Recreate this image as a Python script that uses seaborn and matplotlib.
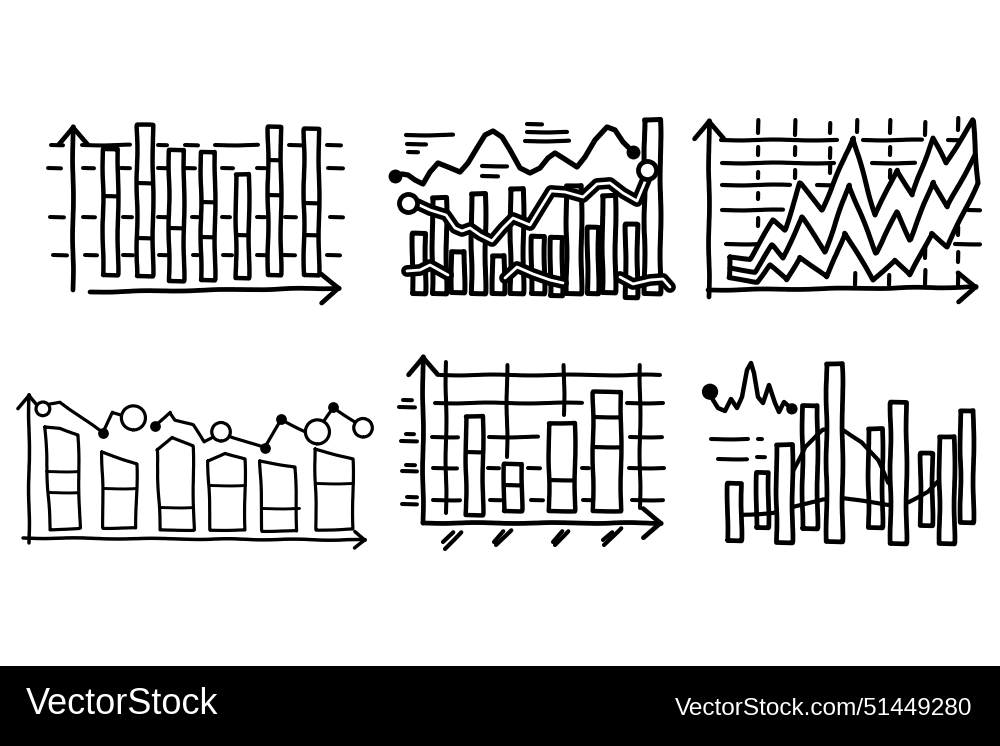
import numpy as np
import matplotlib
matplotlib.use("Agg")
import matplotlib.pyplot as plt
import seaborn as sns

# ---------- panel 1: tall segmented bars ----------
p1_x = [70, 105, 136, 168, 202, 234, 271]
p1_top = [151, 175, 150, 148, 126, 173, 171]
p1_base = [25, 24, 19, 20, 22, 25, 25]
p1_width = [15, 16, 15, 14, 13, 13, 15]
p1_splits = [[104], [117, 62], [72], [98, 63], [65], [140, 105], [97, 65]]
p1_levels = {
    155: [(11, 23), (42, 90), (118, 127), (145, 158), (175, 218), (249, 262), (287, 301)],
    132: [(8, 21), (43, 54), (81, 90), (118, 127), (143, 155), (182, 193), (217, 225), (288, 303)],
    83: [(10, 24), (43, 55), (83, 92), (118, 127), (152, 158), (182, 190), (217, 225), (245, 256), (290, 303)],
    45: [(13, 27), (45, 57), (83, 93), (119, 127), (153, 158), (183, 192), (217, 228), (243, 255), (287, 300)],
}

# ---------- panel 2: bars with three curves ----------
p2_x = [33, 54, 72, 93, 113, 132, 152, 171, 189, 208, 224, 246, 267]
p2_top = [72, 108, 54, 112, 50, 117, 69, 68, 120, 78, 110, 81, 186]
p2_base = [12, 12, 13, 12, 12, 12, 12, 10, 12, 12, 13, 8, 12]
p2_width = [13, 14, 13, 14, 12, 13, 13, 12, 15, 11, 13, 12, 16]
p2_wave_x = [10, 17, 23, 30, 38, 45, 53, 63, 75, 83, 92, 100, 108, 117, 125, 135, 145, 155,
             163, 170, 178, 192, 200, 210, 222, 230, 238, 248]
p2_wave_y = [129, 131, 130, 125, 121, 133, 142, 138, 133, 142, 157, 170, 174, 168, 155, 137, 132, 137,
             147, 152, 147, 138, 148, 165, 178, 175, 163, 153]
p2_band_x = [23, 32, 45, 61, 70, 77, 85, 95, 107, 118, 128, 145, 156, 166, 180, 198, 212, 225, 238, 252, 262]
p2_band_y = [102, 101, 95, 90, 77, 74, 77, 70, 64, 77, 87, 80, 98, 114, 113, 108, 121, 122, 112, 104, 128]
p2_low_a = ([22, 35, 45, 63], [34, 35, 40, 30])
p2_low_b = ([120, 132, 148, 165, 178], [27, 38, 31, 25, 22])
p2_low_c = ([235, 248, 265, 278, 285], [28, 21, 25, 26, 18])
p2_text = {170: (21, 68), 161: (22, 41), 153: (23, 33), 139: (97, 122), 129: (97, 113),
           181: (142, 157), 173: (142, 182), 164: (140, 184)}

# ---------- panel 3: zigzag area ----------
p3_outer_x = [35, 55, 78, 90, 105, 127, 158, 180, 202, 217, 238, 251, 278, 283, 252, 237, 215, 200,
              178, 150, 132, 105, 92, 75, 62, 34, 35]
p3_outer_y = [48, 46, 85, 75, 122, 95, 167, 90, 135, 110, 167, 142, 185, 122, 58, 72, 30, 45,
              25, 72, 28, 48, 25, 40, 23, 27, 48]
p3_mid_x = [35, 60, 77, 88, 107, 130, 154, 181, 202, 215, 238, 252, 280]
p3_mid_y = [37, 33, 60, 47, 88, 53, 120, 52, 93, 65, 123, 98, 150]
p3_levels = {
    165: [(26, 142), (168, 227), (253, 267)],
    142: [(27, 139), (177, 220)],
    120: [(27, 95), (122, 137)],
    95: [(27, 88), (273, 285)],
    61: [(31, 63), (260, 285)],
}
p3_cols = {
    63: [(172, 185), (150, 158), (127, 133), (106, 112), (79, 87)],
    100: [(170, 185), (150, 158), (127, 135)],
    135: [(172, 182), (147, 157), (132, 140)],
    162: [(173, 185)],
    195: [(172, 185), (150, 158), (127, 135)],
    230: [(170, 183), (47, 58), (20, 35)],
    263: [(175, 187), (70, 78), (43, 53), (20, 32)],
    160: [(20, 32)],
    194: [(20, 30)],
}

# ---------- panel 4: houses and linked dots ----------
p4_x = [48, 105, 160, 212, 264, 319]
p4_top = [123, 98, 113, 97, 89, 101]
p4_width = [33, 34, 35, 35, 36, 38]
p4_roofs = [
    ([30, 45, 63, 65, 35, 30], [123, 122, 115, 22, 20, 123]),
    ([87, 122, 121, 88, 87], [98, 86, 22, 22, 98]),
    ([142, 157, 178, 179, 145, 142], [100, 113, 104, 20, 20, 100]),
    ([193, 210, 230, 230, 195, 193], [89, 97, 91, 20, 20, 89]),
    ([245, 280, 282, 247, 245], [89, 83, 19, 19, 89]),
    ([300, 338, 338, 301, 300], [101, 91, 21, 20, 101]),
]
p4_splits = [[(31, 63, 79), (33, 63, 58)], [(88, 121, 62)], [(145, 176, 43)], [(195, 230, 65)],
             [(247, 284, 42)], [(301, 338, 67)]]
p4_link_a = ([35, 45, 88, 97, 118], [146, 148, 117, 138, 132])
p4_link_b = ([140, 155, 160, 178, 189, 198, 206, 217, 250, 266, 292, 302, 318, 348],
             [124, 138, 130, 125, 108, 113, 118, 113, 102, 131, 117, 118, 143, 122])
p4_rings_x = [28, 118, 206, 302, 348]
p4_rings_y = [141, 132, 118, 118, 122]
p4_rings_s = [90, 300, 170, 300, 170]
p4_dots_x = [88, 140, 250, 266, 318]
p4_dots_y = [117, 124, 102, 131, 143]

# ---------- panel 5: bars on a grid ----------
p5_x = [79, 118, 167, 212]
p5_top = [139, 91, 132, 163]
p5_base = [40, 44, 44, 44]
p5_width = [17, 18, 26, 28]
p5_splits = [[103], [70], [75], [138, 108]]
p5_levels = {
    180: [(45, 265)],
    152: [(40, 187), (232, 268)],
    118: [(37, 63), (94, 143), (235, 267)],
    87: [(38, 62), (93, 104), (133, 145), (187, 194), (234, 269)],
    55: [(38, 65), (95, 106), (136, 148), (188, 198), (237, 268)],
    155: [(8, 17)], 148: [(4, 20)], 121: [(11, 19)], 114: [(6, 22)],
    90: [(11, 20)], 84: [(7, 22)], 58: [(12, 22)], 51: [(7, 22)],
}
p5_cols = {51: (42, 193), 112: (98, 190), 169: (140, 190), 245: (47, 190)}
p5_marks = [((48, 58), (13, 23)), ((50, 66), (6, 23)), ((99, 108), (13, 24)), ((101, 116), (10, 25)),
            ((158, 167), (13, 24)), ((160, 173), (10, 24)), ((208, 217), (15, 23)), ((209, 226), (10, 27))]

# ---------- panel 6: bars, bell and squiggle ----------
p6_x = [34, 62, 84, 109, 134, 175, 198, 226, 247, 267]
p6_top = [69, 80, 108, 147, 189, 124, 150, 99, 116, 142]
p6_base = [12, 25, 10, 24, 11, 25, 9, 27, 9, 30]
p6_width = [14, 12, 16, 15, 16, 14, 16, 12, 15, 13]
p6_solid = [True, False, True, False, True, False, True, False, True, True]
p6_bell_x = [92, 105, 123, 143, 162, 178, 188]
p6_bell_y = [79, 105, 122, 122, 110, 92, 69]
p6_under_x = [37, 73, 123, 143, 168, 188, 208, 228, 238]
p6_under_y = [37, 39, 53, 54, 50, 47, 50, 60, 70]
p6_wave_x = [10, 13, 18, 25, 31, 37, 42, 47, 51, 54, 58, 63, 69, 75, 79, 84, 92]
p6_wave_y = [160, 152, 144, 141, 153, 144, 155, 182, 189, 179, 155, 149, 167, 149, 140, 150, 143]
p6_text = {113: [(11, 48), (58, 62)], 93: [(18, 47)], 95: [(57, 65)]}

FOOTER_LEFT = "VectorStock"
FOOTER_RIGHT = "VectorStock.com/51449280"

W, H = 1000, 746
sns.set_theme(style="white")
plt.rcParams["font.family"] = ["Liberation Sans", "DejaVu Sans"]
plt.rcParams["path.sketch"] = (0.45, 90, 3)
plt.rcParams["lines.solid_capstyle"] = "round"
plt.rcParams["lines.solid_joinstyle"] = "round"

fig = plt.figure(figsize=(W / 100, H / 100), dpi=100, facecolor="white")
fig.patch.set_sketch_params(None)


def panel(left, top, right, bottom):
    ax = fig.add_axes([left / W, 1 - bottom / H, (right - left) / W, (bottom - top) / H])
    ax.set_meta = (right - left, bottom - top)
    return ax


def finish(ax):
    ax.set_xlim(0, ax.set_meta[0])
    ax.set_ylim(0, ax.set_meta[1])
    ax.axis("off")


def bars(ax, x, top, base, width, lw=3.2, solid=None, z=3):
    n_before = len(ax.patches)
    sns.barplot(x=x, y=top, native_scale=True, fill=True, color="white", saturation=1,
                edgecolor="black", linewidth=lw, ax=ax, errorbar=None, zorder=z)
    for i, p in enumerate(ax.patches[n_before:]):
        p.set_x(x[i] - width[i] / 2)
        p.set_width(width[i])
        p.set_y(base[i])
        p.set_height(top[i] - base[i])
        p.set_facecolor("white" if (solid is None or solid[i]) else "none")
        p.set_joinstyle("round")


def splits(ax, x, width, levels, lw=3.0, z=4):
    for xi, wi, ys in zip(x, width, levels):
        ax.hlines(ys, xi - wi / 2, xi + wi / 2, color="black", lw=lw, zorder=z)


def rules(ax, levels, lw=2.9, z=1):
    for y, segs in levels.items():
        for a, b in segs:
            ax.plot([a, b], [y, y], color="black", lw=lw, zorder=z)


def curve(ax, x, y, lw=3.2, color="black", z=5, smooth=False):
    sns.lineplot(x=x, y=y, sort=False, estimator=None, color=color, lw=lw, ax=ax, zorder=z, legend=False)
    if smooth:
        ax.lines[-1].set_sketch_params(None)


def band(ax, x, y, z=5):
    curve(ax, x, y, lw=8.5, z=z, smooth=True)
    curve(ax, x, y, lw=2.0, color="white", z=z + 1, smooth=True)


def arrow(ax, start, end, lw=3.4, scale=26):
    ax.annotate("", xy=end, xytext=start, zorder=6,
                arrowprops=dict(arrowstyle="->,head_length=0.5,head_width=0.4", lw=lw, color="black",
                                shrinkA=0, shrinkB=0, mutation_scale=scale, capstyle="round"))


# panel 1
ax = panel(40, 110, 360, 300)
rules(ax, p1_levels)
bars(ax, p1_x, p1_top, p1_base, p1_width)
splits(ax, p1_x, p1_width, p1_splits)
arrow(ax, (33, 10), (33, 177))
arrow(ax, (50, 8), (303, 12))
finish(ax)

# panel 2
ax = panel(385, 110, 680, 305)
bars(ax, p2_x, p2_top, p2_base, p2_width, lw=3.6)
for y, (a, b) in p2_text.items():
    ax.plot([a, b], [y, y], color="black", lw=3.0)
curve(ax, p2_wave_x, p2_wave_y, lw=3.8, smooth=True)
sns.scatterplot(x=[p2_wave_x[0], p2_wave_x[-1]], y=[p2_wave_y[0], p2_wave_y[-1]], s=100, color="black",
                linewidth=0, ax=ax, zorder=6)
band(ax, p2_band_x, p2_band_y)
band(ax, *p2_low_a)
band(ax, *p2_low_b)
band(ax, *p2_low_c)
sns.scatterplot(x=[p2_band_x[0], p2_band_x[-1]], y=[p2_band_y[0], 135], s=170, color="white",
                edgecolor="black", linewidth=3.4, ax=ax, zorder=8)
finish(ax)

# panel 3
ax = panel(695, 105, 990, 305)
rules(ax, p3_levels, lw=3.0)
for x0, segs in p3_cols.items():
    for a, b in segs:
        ax.plot([x0, x0], [a, b], color="black", lw=3.0, zorder=1)
sns.lineplot(x=p3_outer_x, y=p3_outer_y, sort=False, estimator=None, color="black", lw=3.6, ax=ax, zorder=4,
             legend=False)
ax.fill(p3_outer_x, p3_outer_y, color="white", zorder=3)
curve(ax, p3_mid_x, p3_mid_y, lw=3.6)
arrow(ax, (14, 8), (14, 188))
arrow(ax, (13, 15), (285, 18))
finish(ax)

# panel 4
ax = panel(15, 385, 380, 550)
sns.barplot(x=p4_x, y=p4_top, native_scale=True, color="white", saturation=1, linewidth=0, ax=ax,
            errorbar=None, zorder=1)
for p, xi, wi in zip(ax.patches, p4_x, p4_width):
    p.set_x(xi - wi / 2)
    p.set_width(wi)
    p.set_y(20)
    p.set_height(p.get_height() - 20)
for rx, ry in p4_roofs:
    curve(ax, rx, ry, lw=2.3, z=3)
for group in p4_splits:
    for a, b, y in group:
        ax.plot([a, b], [y, y], color="black", lw=2.1, zorder=3)
curve(ax, *p4_link_a, lw=2.3)
curve(ax, *p4_link_b, lw=2.3)
sns.scatterplot(x=p4_dots_x, y=p4_dots_y, s=60, color="black", linewidth=0, ax=ax, zorder=6)
sns.scatterplot(x=p4_rings_x, y=p4_rings_y, s=p4_rings_s, color="white", edgecolor="black", linewidth=2.3,
                ax=ax, zorder=7, legend=False)
arrow(ax, (14, 7), (14, 158), lw=2.5, scale=20)
arrow(ax, (8, 12), (353, 10), lw=2.5, scale=15)
finish(ax)

# panel 5
ax = panel(395, 345, 675, 555)
rules(ax, p5_levels)
for x0, (a, b) in p5_cols.items():
    ax.plot([x0, x0], [a, b], color="black", lw=2.9, zorder=1)
bars(ax, p5_x, p5_top, p5_base, p5_width)
splits(ax, p5_x, p5_width, p5_splits)
for mx, my in p5_marks:
    ax.plot(mx, my, color="black", lw=3.0)
arrow(ax, (28, 32), (28, 202))
arrow(ax, (28, 32), (270, 32))
finish(ax)

# panel 6
ax = panel(700, 350, 985, 552)
curve(ax, p6_bell_x, p6_bell_y, lw=3.0, z=2)
curve(ax, p6_under_x, p6_under_y, lw=3.0, z=2)
bars(ax, p6_x, p6_top, p6_base, p6_width, lw=3.4, solid=p6_solid)
curve(ax, p6_wave_x, p6_wave_y, lw=3.2, smooth=True)
sns.scatterplot(x=[p6_wave_x[0], p6_wave_x[-1]], y=[p6_wave_y[0], p6_wave_y[-1]], s=[130, 60], color="black",
                linewidth=0, ax=ax, zorder=6, legend=False)
rules(ax, p6_text, lw=2.9)
finish(ax)

# footer
plt.rcParams["path.sketch"] = None
foot = fig.add_axes([0, 0, 1, 80 / H])
foot.patch.set_sketch_params(None)
foot.set_facecolor("black")
foot.set_xlim(0, W)
foot.set_ylim(80, 0)
foot.set_xticks([])
foot.set_yticks([])
for s in foot.spines.values():
    s.set_visible(False)
foot.text(26, 39, FOOTER_LEFT, color="white", fontsize=26, va="center", ha="left")
foot.text(972, 43, FOOTER_RIGHT, color="white", fontsize=17.6, va="center", ha="right")

fig.savefig("out.png", dpi=100, facecolor="white")
